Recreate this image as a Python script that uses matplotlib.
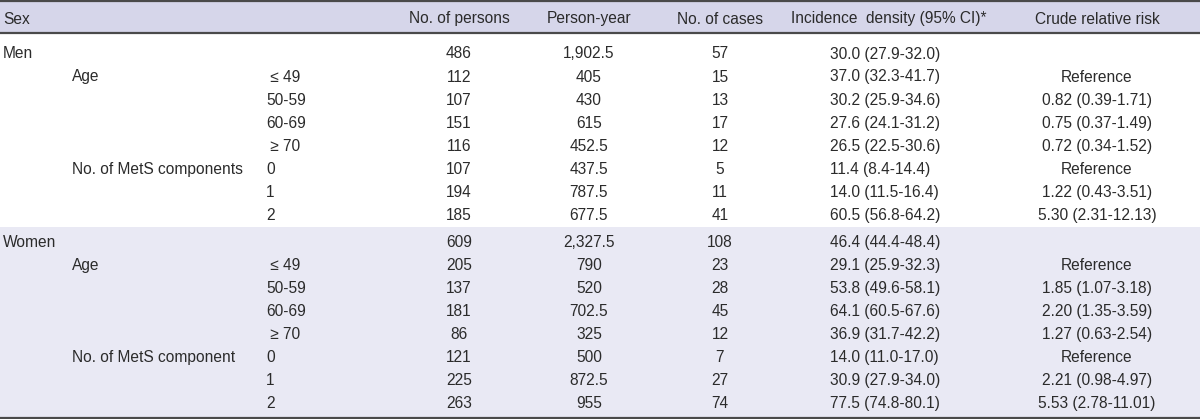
import matplotlib.pyplot as plt
from matplotlib import font_manager
from matplotlib.patches import Rectangle

# --------------- Table data ---------------
headers = ["Sex", "No. of persons", "Person-year", "No. of cases",
           "Incidence  density (95% CI)*", "Crude relative risk"]

sex_labels = ["Men", "", "", "", "", "", "", "",
              "Women", "", "", "", "", "", "", ""]
group_labels = ["", "Age", "", "", "", "No. of MetS components", "", "",
                "", "Age", "", "", "", "No. of MetS component", "", ""]
level_labels = ["", " \u2264 49", "50-59", "60-69", " \u2265 70", "0", "1", "2",
                "", " \u2264 49", "50-59", "60-69", " \u2265 70", "0", "1", "2"]
persons = ["486", "112", "107", "151", "116", "107", "194", "185",
           "609", "205", "137", "181", "86", "121", "225", "263"]
person_years = ["1,902.5", "405", "430", "615", "452.5", "437.5", "787.5", "677.5",
                "2,327.5", "790", "520", "702.5", "325", "500", "872.5", "955"]
cases = ["57", "15", "13", "17", "12", "5", "11", "41",
         "108", "23", "28", "45", "12", "7", "27", "74"]
incidence = ["30.0 (27.9-32.0)", "37.0 (32.3-41.7)", "30.2 (25.9-34.6)",
             "27.6 (24.1-31.2)", "26.5 (22.5-30.6)", "11.4 (8.4-14.4)",
             "14.0 (11.5-16.4)", "60.5 (56.8-64.2)",
             "46.4 (44.4-48.4)", "29.1 (25.9-32.3)", "53.8 (49.6-58.1)",
             "64.1 (60.5-67.6)", "36.9 (31.7-42.2)", "14.0 (11.0-17.0)",
             "30.9 (27.9-34.0)", "77.5 (74.8-80.1)"]
crude_rr = ["", "Reference", "0.82 (0.39-1.71)", "0.75 (0.37-1.49)",
            "0.72 (0.34-1.52)", "Reference", "1.22 (0.43-3.51)", "5.30 (2.31-12.13)",
            "", "Reference", "1.85 (1.07-3.18)", "2.20 (1.35-3.59)",
            "1.27 (0.63-2.54)", "Reference", "2.21 (0.98-4.97)", "5.53 (2.78-11.01)"]

# --------------- Layout ---------------
W, H = 1200, 419
header_color = "#d6d6ea"
women_color = "#e9e9f4"
line_color = "#4a4a4a"
text_color = "#2b2b2b"

names = {f.name for f in font_manager.fontManager.ttflist}
family = "Liberation Sans Narrow" if "Liberation Sans Narrow" in names else "Liberation Sans"
fsize = 13 if family == "Liberation Sans Narrow" else 11.2
plt.rcParams['font.family'] = [family, 'DejaVu Sans']

fig = plt.figure(figsize=(W / 100, H / 100), dpi=100)
ax = fig.add_axes([0, 0, 1, 1])
ax.set_xlim(0, W)
ax.set_ylim(H, 0)
ax.axis("off")

header_y = 19
row_y0 = 54
row_h = 23
gap = 4  # extra space before the Women block

def row_y(i):
    return row_y0 + i * row_h + (gap if i >= 8 else 0)

# backgrounds
ax.add_patch(Rectangle((0, 0), W, 33, color=header_color, lw=0))
women_top = row_y(8) - 15
ax.add_patch(Rectangle((0, women_top), W, H - women_top, color=women_color, lw=0))

# rules
ax.axhline(0.8, color=line_color, lw=1.6)
ax.axhline(33, color=line_color, lw=1.6)
ax.axhline(H - 1.5, color=line_color, lw=1.6)

# header
centers = [None, 459, 589, 720, 889, 1097]
ax.text(3, header_y, headers[0], ha="left", va="center", fontsize=fsize, color=text_color)
for c, h in zip(centers[1:], headers[1:]):
    ax.text(c, header_y, h, ha="center", va="center", fontsize=fsize, color=text_color)

# body
for i in range(len(persons)):
    y = row_y(i)
    ax.text(3, y, sex_labels[i], ha="left", va="center", fontsize=fsize, color=text_color)
    ax.text(72, y, group_labels[i], ha="left", va="center", fontsize=fsize, color=text_color)
    ax.text(266, y, level_labels[i], ha="left", va="center", fontsize=fsize, color=text_color)
    cols = [persons[i], person_years[i], cases[i], incidence[i], crude_rr[i]]
    for c, v in zip(centers[1:], cols):
        if c == 889:
            ax.text(830, y, v, ha="left", va="center", fontsize=fsize, color=text_color)
        else:
            ax.text(c, y, v, ha="center", va="center", fontsize=fsize, color=text_color)

fig.savefig("out.png", dpi=100)
